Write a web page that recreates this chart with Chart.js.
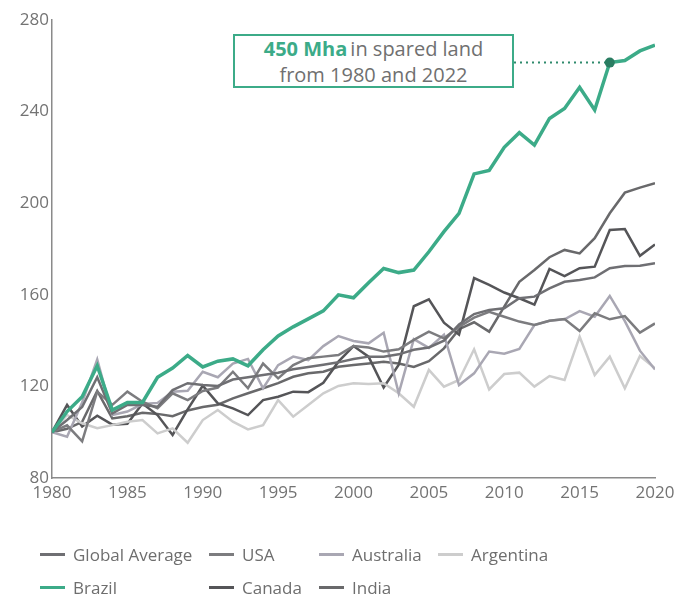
<!DOCTYPE html>
<html>
<head>
<meta charset="utf-8">
<script src="https://cdn.jsdelivr.net/npm/chart.js@4/dist/chart.umd.min.js"></script>
<style>
  html, body { margin: 0; padding: 0; background: #ffffff; }
  #wrap { position: relative; width: 677px; height: 594px; font-family: "Open Sans", "Noto Sans", sans-serif; overflow: hidden; }
  #chart { position: absolute; left: 0; top: 0; }
  .note { position: absolute; left: 233px; top: 34px; width: 277px; height: 50px;
          border: 2px solid #3cab88; background: #ffffff; text-align: center;
          color: #707070; font-size: 20px; line-height: 26px; white-space: nowrap; }
  .note b { color: #3cab88; font-weight: 700; margin-right: 3px; }
  .lg { position: absolute; height: 24px; display: flex; align-items: center; white-space: nowrap;
        font-size: 17px; color: #6e6e6e; }
  .lg i { display: inline-block; width: 25px; height: 3px; margin-right: 8px; }
</style>
</head>
<body>
<div id="wrap">
  <canvas id="chart" width="677" height="594"></canvas>
  <div class="note"><b>450 Mha</b>in spared land<br>from 1980 and 2022</div>
  <div id="legend"></div>
</div>
<script>
// Years on the x axis
const years = [1980,1981,1982,1983,1984,1985,1986,1987,1988,1989,
               1990,1991,1992,1993,1994,1995,1996,1997,1998,1999,
               2000,2001,2002,2003,2004,2005,2006,2007,2008,2009,
               2010,2011,2012,2013,2014,2015,2016,2017,2018,2019,2020];

// Index values (1980 = 100)
const globalAverage = [100,105.3,111,124,108.2,111.9,111.9,111.1,118.4,121.4,
                       120.6,120.2,123,124,125,126,127.5,128.5,129.5,130.5,
                       132,133,133,134,136,137,140,147,151.6,153.4,
                       154.1,158.5,159.2,162.8,165.7,166.5,167.6,171.6,172.6,172.7,173.8];
const usa = [100,103,96,117.7,111.9,117.7,113.3,110.4,117,114,
             118,119.5,126.4,119.2,130,123.5,129.3,132.3,133,133.7,
             137.6,137,135.2,136.2,140.3,143.9,141,146,150,152.6,
             150.4,148.3,146.8,148.7,149.4,144.2,151.9,149.3,150.7,143.5,147.5];
const australia = [100,98,113,131.8,107.5,109,112.3,112.8,117.7,118.1,
                   126.4,124,130,132,119.2,129.3,133,131.5,137.6,142,
                   139.8,138.8,143.4,117,140.6,136.8,142.6,120.6,125.7,135.2,
                   134.3,136.4,146.8,148.7,149.3,152.9,150.4,159.5,148.5,135.6,127.4];
const argentina = [100,107.5,103.9,101.7,103.1,104.6,105.3,99.5,101.7,95.4,
                   105.3,109.7,104.6,101.2,103.1,114,106.8,111.9,117,120.2,
                   121.4,121,121.4,117,111.1,127.2,119.9,122.8,136.2,118.7,
                   125.4,126,119.9,124.5,122.8,141.7,125,133,119.2,133.3,127.9];
const brazil = [100,109,115.5,129,109.7,113,113,124,128,133.5,
                128.5,131,132,129,136,142,146,149.5,153,160,
                158.7,165.3,171.5,169.7,170.8,178.8,187.6,195.6,212.8,214.3,
                224.4,230.8,225.4,237,241.4,250.6,240.7,261.4,262.3,266.5,269];
const canada = [100,111.9,102.5,107.2,103.3,103.7,112.5,107.5,98.8,110,
                120.3,112.6,110.4,107.5,114,115.5,117.7,117.5,121.6,130.8,
                137.6,133,119.5,129.5,155,158,147.8,142.6,167.3,164.3,
                161,158.5,155.7,171.3,168.2,171.6,172.3,188.3,188.7,177,182];
const india = [100,101.5,104.5,118,106,107,108.5,108,107,109.5,
               111,112,114.8,117,119.2,121.4,124.2,125.7,126.4,128.6,
               129.3,130,130.8,130,128.5,131,136.6,145,148,143.9,
               154.8,165.7,170.8,176.4,179.6,178.1,184.7,195.6,204.6,206.8,208.7];

// Axis ticks
const xTicks = [1980,1985,1990,1995,2000,2005,2010,2015,2020];
const yTicks = [80,120,160,200,240,280];

// Year of the highlighted Brazil point
const highlightYear = 2017;

const series = [
  { label: 'Global Average', values: globalAverage, color: '#6f6f73', width: 2.5 },
  { label: 'USA',            values: usa,           color: '#7c7c7f', width: 2.5 },
  { label: 'Australia',      values: australia,     color: '#a9a7b3', width: 2.5 },
  { label: 'Argentina',      values: argentina,     color: '#cdcdcd', width: 2.5 },
  { label: 'Brazil',         values: brazil,        color: '#3cab88', width: 3.5 },
  { label: 'Canada',         values: canada,        color: '#555558', width: 2.5 },
  { label: 'India',          values: india,         color: '#69696b', width: 2.5 }
];

// Legend layout (two rows)
const legendSlots = [
  { x: 40,  y: 542 }, { x: 209, y: 542 }, { x: 319, y: 542 }, { x: 438, y: 542 },
  { x: 40,  y: 575 }, { x: 209, y: 575 }, { x: 319, y: 575 }
];
const legendEl = document.getElementById('legend');
series.forEach((s, i) => {
  const d = document.createElement('div');
  d.className = 'lg';
  d.style.left = legendSlots[i].x + 'px';
  d.style.top = legendSlots[i].y + 'px';
  d.innerHTML = '<i style="background:' + s.color + '"></i>' + s.label;
  legendEl.appendChild(d);
});

const hiIndex = years.indexOf(highlightYear);
const noteRight = 514;

// Dotted leader from the note box to the highlighted point
const leaderPlugin = {
  id: 'leader',
  afterDatasetsDraw(chart) {
    const meta = chart.getDatasetMeta(series.findIndex(s => s.label === 'Brazil'));
    const pt = meta.data[hiIndex];
    const ctx = chart.ctx;
    ctx.save();
    ctx.strokeStyle = '#2e8a6c';
    ctx.lineWidth = 2;
    ctx.setLineDash([2, 4]);
    ctx.beginPath();
    ctx.moveTo(noteRight, pt.y);
    ctx.lineTo(pt.x - 4, pt.y);
    ctx.stroke();
    ctx.setLineDash([]);
    ctx.fillStyle = '#2a7d62';
    ctx.beginPath();
    ctx.arc(pt.x, pt.y, 5, 0, Math.PI * 2);
    ctx.fill();
    ctx.restore();
  }
};

const tickFont = { family: '"Open Sans", "Noto Sans", sans-serif', size: 17 };

new Chart(document.getElementById('chart'), {
  type: 'line',
  data: {
    datasets: series.map(s => ({
      label: s.label,
      data: years.map((y, i) => ({ x: y, y: s.values[i] })),
      borderColor: s.color,
      backgroundColor: s.color,
      borderWidth: s.width,
      pointRadius: 0,
      tension: 0,
      fill: false,
      order: s.label === 'Brazil' ? 0 : 1
    }))
  },
  options: {
    responsive: false,
    animation: false,
    layout: { padding: { left: 0, right: 22, top: 20, bottom: 64 } },
    plugins: { legend: { display: false }, tooltip: { enabled: false } },
    scales: {
      x: {
        type: 'linear',
        min: 1980, max: 2020,
        afterBuildTicks(scale) { scale.ticks = xTicks.map(v => ({ value: v })); },
        ticks: { color: '#737373', font: tickFont, padding: 5, maxRotation: 0, callback: v => String(v) },
        grid: { display: false, drawTicks: false },
        border: { color: '#8a8a8a', width: 1.5 },
        afterFit(scale) { scale.height = 52; scale.paddingLeft = 0; scale.paddingRight = 0; }
      },
      y: {
        min: 80, max: 280,
        afterBuildTicks(scale) { scale.ticks = yTicks.map(v => ({ value: v })); },
        ticks: { color: '#737373', font: tickFont, padding: 3, callback: v => String(v) },
        grid: { display: false, drawTicks: false },
        border: { color: '#8a8a8a', width: 1.5 },
        afterFit(scale) { scale.width = 52; scale.paddingTop = 0; scale.paddingBottom = 0; }
      }
    }
  },
  plugins: [leaderPlugin]
});
</script>
</body>
</html>
